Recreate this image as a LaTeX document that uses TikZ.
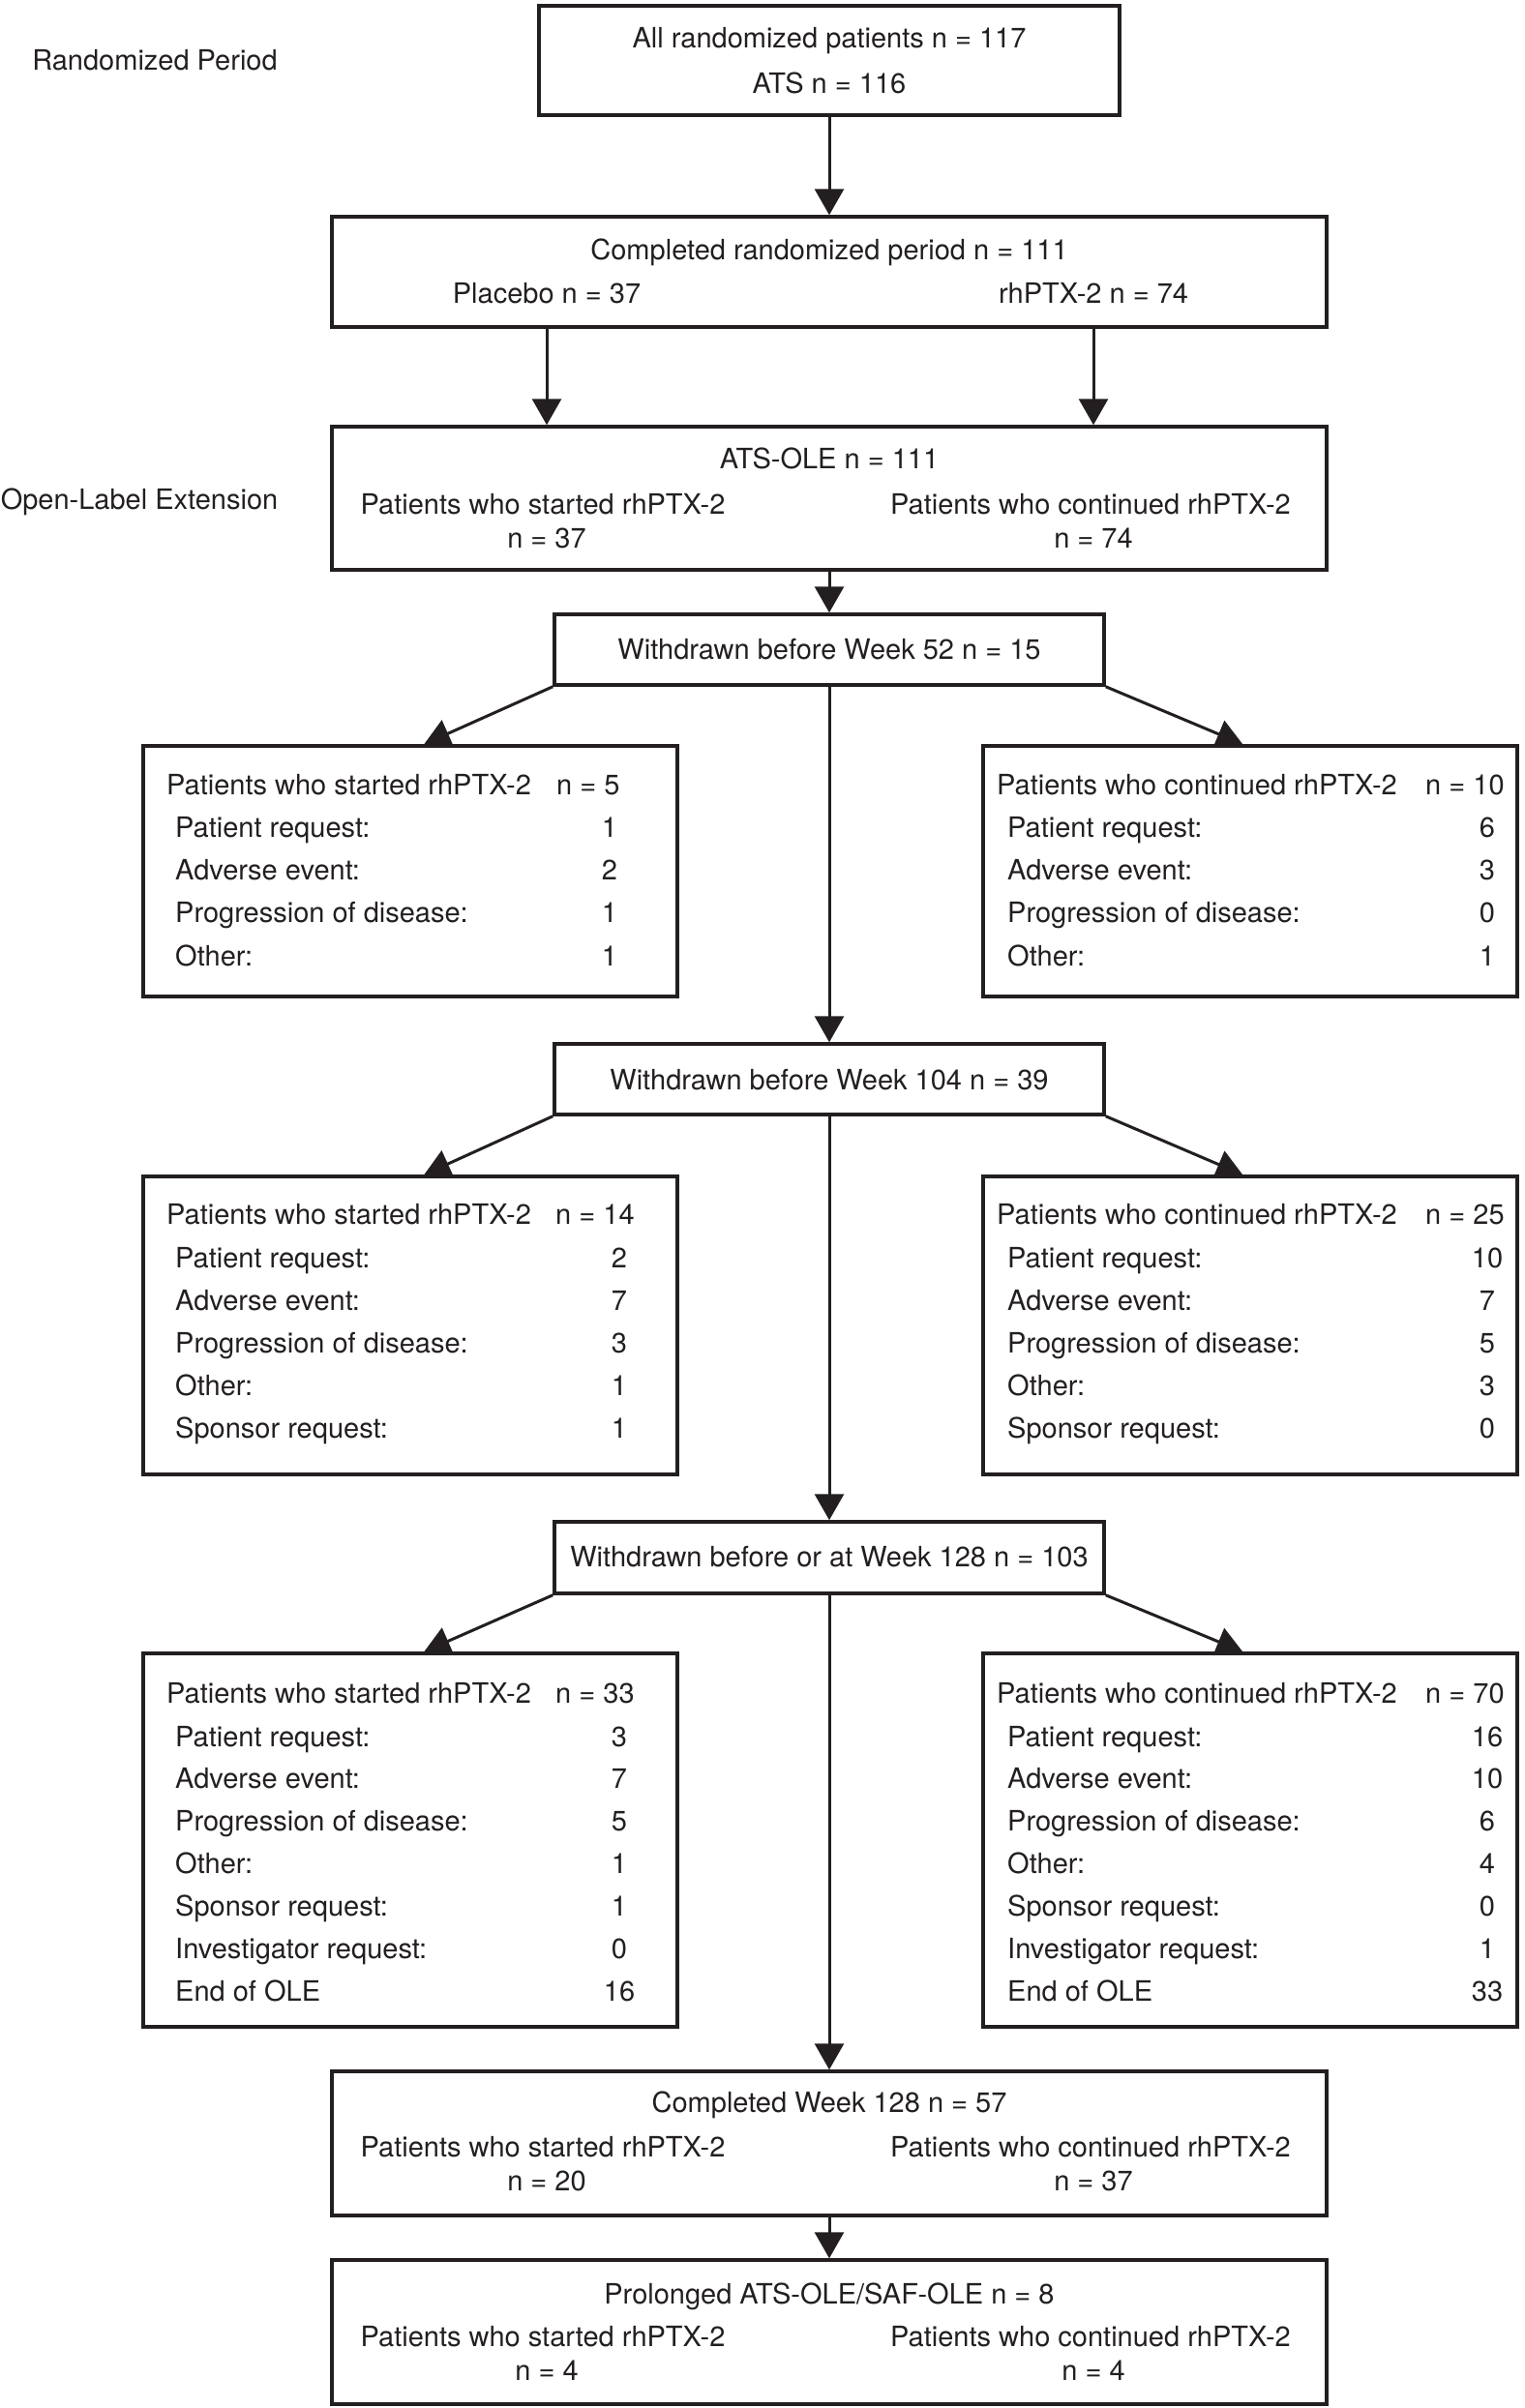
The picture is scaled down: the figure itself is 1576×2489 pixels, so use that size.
\documentclass[tikz,border=0pt]{standalone}
\usepackage{fontspec}
\setmainfont{TeX Gyre Heros}
\usetikzlibrary{arrows.meta}
\definecolor{ink}{HTML}{231F20}
\begin{document}
\begin{tikzpicture}[x=1pt,y=-1pt,
  box/.style={draw=ink, line width=3.5pt, rectangle, inner sep=0pt},
  txt/.style={text=ink, font=\fontsize{29}{34}\selectfont, inner sep=0pt, anchor=base},
  txtl/.style={txt, anchor=base west},
  conn/.style={draw=ink, line width=3pt, -{Triangle[length=27pt,width=30pt]}}]
\useasboundingbox (0,0) rectangle (1576,2489);

% boxes
\node[box, minimum width=600pt, minimum height=113pt] (top) at (857,62.5) {};
\node[box, minimum width=1028pt, minimum height=114pt] (crp) at (857,281) {};
\node[box, minimum width=1028pt, minimum height=148pt] (ole) at (857,515) {};
\node[box, minimum width=568pt, minimum height=73pt] (w52) at (857,671.5) {};
\node[box, minimum width=552pt, minimum height=259pt] (l52) at (424,900.5) {};
\node[box, minimum width=552pt, minimum height=259pt] (r52) at (1292,900.5) {};
\node[box, minimum width=568pt, minimum height=73pt] (w104) at (857,1115.5) {};
\node[box, minimum width=552pt, minimum height=308pt] (l104) at (424,1370) {};
\node[box, minimum width=552pt, minimum height=308pt] (r104) at (1292,1370) {};
\node[box, minimum width=568pt, minimum height=74pt] (w128) at (857,1610) {};
\node[box, minimum width=552pt, minimum height=386pt] (l128) at (424,1902) {};
\node[box, minimum width=552pt, minimum height=386pt] (r128) at (1292,1902) {};
\node[box, minimum width=1028pt, minimum height=149pt] (c128) at (857,2215.5) {};
\node[box, minimum width=1028pt, minimum height=149pt] (pro) at (857,2410.5) {};

% side labels
\node[txt] (lab1) at (160,73) {Randomized Period};
\node[txt] (lab2) at (144,526) {Open-Label Extension};

% top box
\node[txt] (top1) at (857,50) {All randomized patients n = 117};
\node[txt] (top2) at (857,96) {ATS n = 116};
% completed randomized
\node[txt] (crp1) at (857,268) {Completed randomized period n = 111};
\node[txt] (plc) at (565,313) {Placebo n = 37};
\node[txt] (rhp) at (1130,313) {rhPTX-2 n = 74};
% ATS-OLE
\node[txt] (ole1) at (857,484) {ATS-OLE n = 111};
\node[txt] (oles) at (561,531) {Patients who started rhPTX-2};
\node[txt] (olen) at (565,566) {n = 37};
\node[txt] (olec) at (1127,531) {Patients who continued rhPTX-2};
\node[txt] (olem) at (1130,566) {n = 74};
% withdrawn
\node[txt] (w52t) at (857,681) {Withdrawn before Week 52 n = 15};
\node[txt] (w104t) at (857,1126) {Withdrawn before Week 104 n = 39};
\node[txt] (w128t) at (857,1619) {Withdrawn before or at Week 128 n = 103};
% completed week 128
\node[txt] (c1281) at (857,2183) {Completed Week 128 n = 57};
\node[txt] (c128s) at (561,2229) {Patients who started rhPTX-2};
\node[txt] (c128n) at (565,2264) {n = 20};
\node[txt] (c128c) at (1127,2229) {Patients who continued rhPTX-2};
\node[txt] (c128m) at (1130,2264) {n = 37};
% prolonged
\node[txt] (pro1) at (857,2381) {Prolonged ATS-OLE/SAF-OLE n = 8};
\node[txt] (pros) at (561,2425) {Patients who started rhPTX-2};
\node[txt] (pron) at (565,2460) {n = 4};
\node[txt] (proc) at (1127,2425) {Patients who continued rhPTX-2};
\node[txt] (prom) at (1130,2460) {n = 4};

% side box contents, week 52
\node[txtl] (l52t) at (172,821) {Patients who started rhPTX-2};
\node[txtl] (l52n) at (575,821) {n = 5};
\foreach [count=\i] \lab/\val in {Patient request:/1, Adverse event:/2, Progression of disease:/1, Other:/1} {
  \node[txtl] (l52a\i) at ({181},{865+44.4*(\i-1)}) {\lab};
  \node[txt] (l52v\i) at ({630},{865+44.4*(\i-1)}) {\val};
}
\node[txtl] (r52t) at (1030,821) {Patients who continued rhPTX-2};
\node[txtl] (r52n) at (1473,821) {n = 10};
\foreach [count=\i] \lab/\val in {Patient request:/6, Adverse event:/3, Progression of disease:/0, Other:/1} {
  \node[txtl] (r52a\i) at ({1041},{865+44.4*(\i-1)}) {\lab};
  \node[txt] (r52v\i) at ({1537},{865+44.4*(\i-1)}) {\val};
}
% week 104
\node[txtl] (l104t) at (172,1265) {Patients who started rhPTX-2};
\node[txtl] (l104n) at (574,1265) {n = 14};
\foreach [count=\i] \lab/\val in {Patient request:/2, Adverse event:/7, Progression of disease:/3, Other:/1, Sponsor request:/1} {
  \node[txtl] (l104a\i) at ({181},{1310+44.2*(\i-1)}) {\lab};
  \node[txt] (l104v\i) at ({640},{1310+44.2*(\i-1)}) {\val};
}
\node[txtl] (r104t) at (1030,1265) {Patients who continued rhPTX-2};
\node[txtl] (r104n) at (1473,1265) {n = 25};
\foreach [count=\i] \lab/\val in {Patient request:/10, Adverse event:/7, Progression of disease:/5, Other:/3, Sponsor request:/0} {
  \node[txtl] (r104a\i) at ({1041},{1310+44.2*(\i-1)}) {\lab};
  \node[txt] (r104v\i) at ({1537},{1310+44.2*(\i-1)}) {\val};
}
% week 128
\node[txtl] (l128t) at (172,1760) {Patients who started rhPTX-2};
\node[txtl] (l128n) at (574,1760) {n = 33};
\foreach [count=\i] \lab/\val in {Patient request:/3, Adverse event:/7, Progression of disease:/5, Other:/1, Sponsor request:/1, Investigator request:/0, End of OLE/16} {
  \node[txtl] (l128a\i) at ({181},{1805+43.9*(\i-1)}) {\lab};
  \node[txt] (l128v\i) at ({640},{1805+43.9*(\i-1)}) {\val};
}
\node[txtl] (r128t) at (1030,1760) {Patients who continued rhPTX-2};
\node[txtl] (r128n) at (1473,1760) {n = 70};
\foreach [count=\i] \lab/\val in {Patient request:/16, Adverse event:/10, Progression of disease:/6, Other:/4, Sponsor request:/0, Investigator request:/1, End of OLE/33} {
  \node[txtl] (r128a\i) at ({1041},{1805+43.9*(\i-1)}) {\lab};
  \node[txt] (r128v\i) at ({1537},{1805+43.9*(\i-1)}) {\val};
}

% connectors
\draw[conn] (top.south) -- (crp.north);
\draw[conn] (plc |- crp.south) -- (plc |- ole.north);
\draw[conn] (rhp |- crp.south) -- (rhp |- ole.north);
\draw[conn] (ole.south) -- (w52.north);
\draw[conn] (w52.south west) -- ([xshift=292pt]l52.north west);
\draw[conn] (w52.south east) -- ([xshift=270pt]r52.north west);
\draw[conn] (w52.south) -- (w104.north);
\draw[conn] (w104.south west) -- ([xshift=292pt]l104.north west);
\draw[conn] (w104.south east) -- ([xshift=270pt]r104.north west);
\draw[conn] (w104.south) -- (w128.north);
\draw[conn] (w128.south west) -- ([xshift=292pt]l128.north west);
\draw[conn] (w128.south east) -- ([xshift=270pt]r128.north west);
\draw[conn] (w128.south) -- (c128.north);
\draw[conn] (c128.south) -- (pro.north);
\end{tikzpicture}
\end{document}
